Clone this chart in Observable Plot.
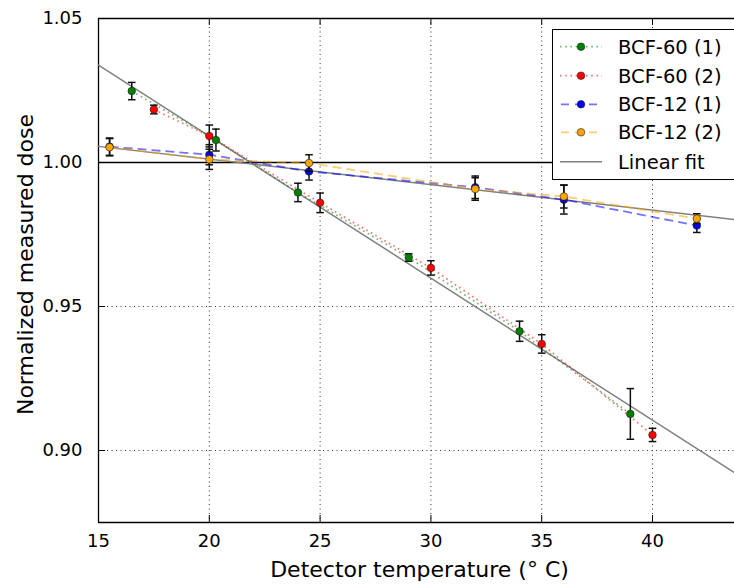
<!DOCTYPE html>
<html>
<head>
<meta charset="utf-8">
<script src="https://cdn.jsdelivr.net/npm/d3@7"></script>
<script src="https://cdn.jsdelivr.net/npm/@observablehq/plot@0.6"></script>
<style>
  html, body { margin: 0; padding: 0; background: white; }
  #chart { width: 734px; height: 584px; }
</style>
</head>
<body>
<div id="chart"></div>
<script>
// ---- data ----
const tempB60_1 = [16.5, 20.3, 24, 29, 34, 39];
const doseB60_1 = [1.0248, 1.0078, 0.9896, 0.9670, 0.9414, 0.9127];
const errB60_1  = [0.003, 0.0038, 0.0032, 0.0013, 0.0035, 0.0088];

const tempB60_2 = [17.5, 20, 25, 30, 35, 40];
const doseB60_2 = [1.0184, 1.0092, 0.9860, 0.9634, 0.9370, 0.9054];
const errB60_2  = [0.0015, 0.0038, 0.0034, 0.0025, 0.0032, 0.0023];

const tempB12   = [15.5, 20, 24.5, 32, 36, 42];
const doseB12_1 = [1.0055, 1.0027, 0.9969, 0.9914, 0.9871, 0.9781];
const errB12_1  = [0.003, 0.0035, 0.003, 0.0039, 0.005, 0.0024];
const doseB12_2 = [1.0053, 1.0011, 0.9998, 0.9908, 0.9882, 0.9805];
const errB12_2  = [0.003, 0.0035, 0.0029, 0.0039, 0.004, 0.0017];

const fitTemp  = [15, 43.7];
const fitB60   = [1.0338, 0.8923];
const fitB12   = [1.0056, 0.9802];

const xTicks = [15, 20, 25, 30, 35, 40];
const yTicks = [0.90, 0.95, 1.00, 1.05];
const xDomain = [15, 43.7];
const yDomain = [0.875, 1.05];

const seriesNames = ["BCF-60 (1)", "BCF-60 (2)", "BCF-12 (1)", "BCF-12 (2)"];
const markerColors = ["#008000", "#ff0000", "#0000ff", "#ffa500"];
const lineDash = ["1.6,3.6", "1.6,3.6", "9,5", "9,5"];

// ---- build tables ----
function rows(ts, vs, es, name) {
  return ts.map((t, i) => ({t, v: vs[i], e: es[i], series: name}));
}
const series = [
  rows(tempB60_1, doseB60_1, errB60_1, seriesNames[0]),
  rows(tempB60_2, doseB60_2, errB60_2, seriesNames[1]),
  rows(tempB12, doseB12_1, errB12_1, seriesNames[2]),
  rows(tempB12, doseB12_2, errB12_2, seriesNames[3])
];
const fits = [
  fitTemp.map((t, i) => ({t, v: fitB60[i]})),
  fitTemp.map((t, i) => ({t, v: fitB12[i]}))
];

const capSymbol = {
  draw(ctx, size) {
    const r = Math.sqrt(size / Math.PI);
    ctx.moveTo(-r, 0);
    ctx.lineTo(r, 0);
  }
};

const W = 734, H = 584, mL = 98, mR = 0, mT = 18, mB = 62;
const plotW = W - mL - mR, plotH = H - mT - mB;
const lineOpacity = 0.55;

const marks = [
  // grid
  Plot.ruleX(xTicks.filter(d => d !== 15), {x: d => d, stroke: "#333", strokeWidth: 1, strokeDasharray: "1,3.5"}),
  Plot.ruleY(yTicks.filter(d => d < 1), {y: d => d, stroke: "#333", strokeWidth: 1, strokeDasharray: "1,3.5"}),
  // spines
  Plot.ruleX([xDomain[0]], {stroke: "black", strokeWidth: 1.3}),
  Plot.ruleY([yDomain[0]], {stroke: "black", strokeWidth: 1.3}),
  Plot.ruleY([yDomain[1]], {stroke: "black", strokeWidth: 1.3}),
  // inward ticks
  Plot.ruleX(xTicks, {x: d => d, insetTop: plotH - 7, stroke: "black", strokeWidth: 1}),
  Plot.ruleX(xTicks, {x: d => d, insetBottom: plotH - 7, stroke: "black", strokeWidth: 1}),
  Plot.ruleY(yTicks, {y: d => d, insetRight: plotW - 7, stroke: "black", strokeWidth: 1}),
  // reference line at 1.00
  Plot.ruleY([1], {stroke: "black", strokeWidth: 1.5}),
  // linear fits
  ...fits.map(f => Plot.line(f, {x: "t", y: "v", stroke: "#808080", strokeWidth: 1.5})),
];
series.forEach((s, i) => {
  marks.push(Plot.line(s, {x: "t", y: "v", stroke: markerColors[i], strokeOpacity: lineOpacity,
    strokeWidth: 1.8, strokeDasharray: lineDash[i], strokeLinecap: "butt"}));
});
series.forEach((s, i) => {
  marks.push(
    Plot.ruleX(s, {x: "t", y1: d => d.v - d.e, y2: d => d.v + d.e, stroke: "#111", strokeWidth: 1.5}),
    Plot.dot(s, {x: "t", y: d => d.v + d.e, symbol: capSymbol, r: 3.8, fill: "none", stroke: "#111", strokeWidth: 1.5}),
    Plot.dot(s, {x: "t", y: d => d.v - d.e, symbol: capSymbol, r: 3.8, fill: "none", stroke: "#111", strokeWidth: 1.5}),
    Plot.dot(s, {x: "t", y: "v", r: 3.8, fill: markerColors[i], stroke: "#222", strokeWidth: 0.6})
  );
});
marks.push(
  Plot.axisX({ticks: xTicks, tickSize: 0, tickPadding: 12, fontSize: 18, label: null}),
  Plot.axisY({ticks: yTicks, tickSize: 0, tickPadding: 16, fontSize: 18, tickFormat: d3.format(".2f"), label: null}),
  Plot.text(["Detector temperature (\u00B0 C)"], {frameAnchor: "bottom", lineAnchor: "middle", textAnchor: "middle", dx: 3, dy: 47, fontSize: 22, fill: "black"}),
  Plot.text(["Normalized measured dose"], {frameAnchor: "left", lineAnchor: "middle", textAnchor: "middle", dx: -73, dy: -6, rotate: -90, fontSize: 22, fill: "black"})
);

const svg = Plot.plot({
  width: W, height: H,
  marginLeft: mL, marginRight: mR, marginTop: mT, marginBottom: mB,
  x: {domain: xDomain},
  y: {domain: yDomain},
  style: {fontFamily: "'DejaVu Sans', sans-serif", fontSize: "18px", color: "black", background: "white", overflow: "visible"},
  marks
});
document.getElementById("chart").appendChild(svg);

// ---- legend (inside the axes, upper right) ----
const lg = d3.select(svg).append("g").attr("font-family", "'DejaVu Sans', sans-serif").attr("text-anchor", "start");
lg.append("rect").attr("x", 552.5).attr("y", 29.5).attr("width", 190).attr("height", 150)
  .attr("fill", "white").attr("stroke", "black").attr("stroke-width", 1);
const rowY = [46.7, 75.7, 104.3, 132.3, 161.7];
seriesNames.forEach((name, i) => {
  const y = rowY[i];
  lg.append("line").attr("x1", 560).attr("x2", 602).attr("y1", y).attr("y2", y)
    .attr("stroke", markerColors[i]).attr("stroke-opacity", lineOpacity)
    .attr("stroke-width", 1.8).attr("stroke-dasharray", i < 2 ? lineDash[i] : "8,6")
    .attr("stroke-dashoffset", i < 2 ? 0 : -1);
  lg.append("circle").attr("cx", 581).attr("cy", y).attr("r", 3.8)
    .attr("fill", markerColors[i]).attr("stroke", "#222").attr("stroke-width", 0.6);
  lg.append("text").attr("x", 618).attr("y", y).attr("dy", "0.35em").attr("text-anchor", "start")
    .attr("font-size", 19.5).attr("fill", "black").text(name);
});
lg.append("line").attr("x1", 560).attr("x2", 602).attr("y1", rowY[4]).attr("y2", rowY[4])
  .attr("stroke", "#808080").attr("stroke-width", 1.5);
lg.append("text").attr("x", 618).attr("y", rowY[4]).attr("dy", "0.35em").attr("text-anchor", "start")
  .attr("font-size", 19.5).attr("fill", "black").text("Linear fit");
</script>
</body>
</html>
